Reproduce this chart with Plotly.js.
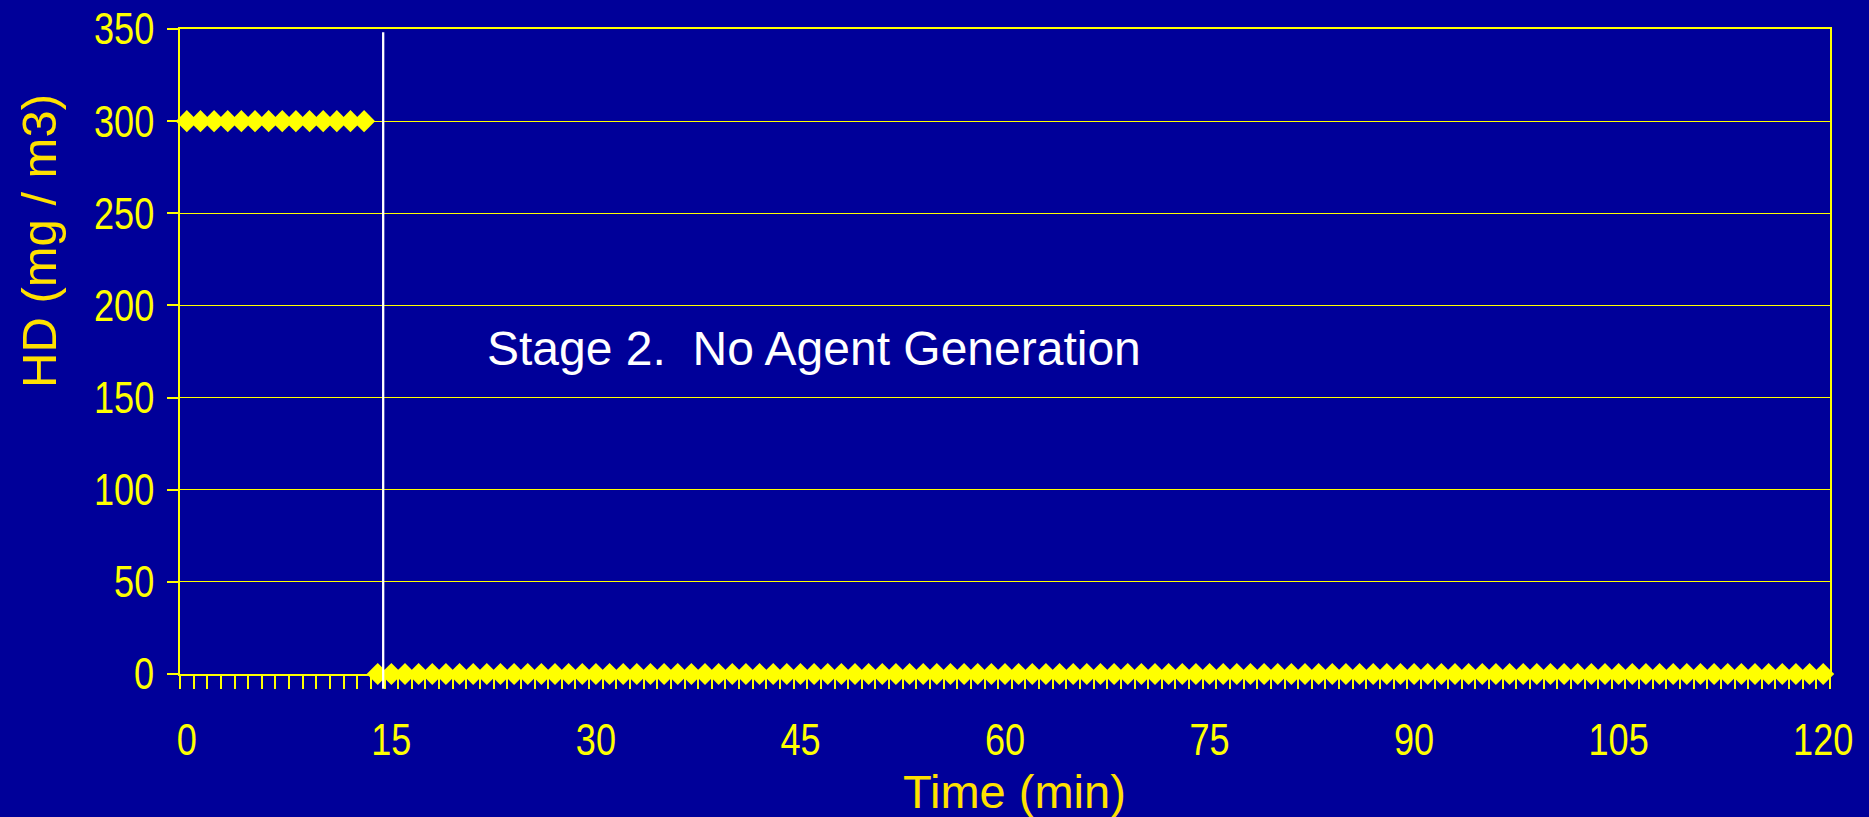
<!DOCTYPE html>
<html>
<head>
<meta charset="utf-8">
<script src="https://cdn.plot.ly/plotly-3.0.1.min.js"></script>
<style>
  html, body { margin: 0; padding: 0; background: #000099; }
  #chart { width: 1869px; height: 817px; }
</style>
</head>
<body>
<div id="chart"></div>
<script>
// ---- data ----
const stage1Times = [0,1,2,3,4,5,6,7,8,9,10,11,12,13];
const stage1HD = [300,300,300,300,300,300,300,300,300,300,300,300,300,300];
const stage2Times = [14,15,16,17,18,19,20,21,22,23,24,25,26,27,28,29,30,31,32,33,34,35,36,37,38,39,40,
  41,42,43,44,45,46,47,48,49,50,51,52,53,54,55,56,57,58,59,60,61,62,63,64,65,66,67,68,69,70,
  71,72,73,74,75,76,77,78,79,80,81,82,83,84,85,86,87,88,89,90,91,92,93,94,95,96,97,98,99,100,
  101,102,103,104,105,106,107,108,109,110,111,112,113,114,115,116,117,118,119,120];
const stage2HD = stage2Times.map(() => 0);
const xTickVals = [0,15,30,45,60,75,90,105,120];
const xTickText = ['0','15','30','45','60','75','90','105','120'];
const yTickVals = [0,50,100,150,200,250,300,350];
const stageBoundary = 14.4;
const xTitle = 'Time (min)';
const yTitle = 'HD (mg / m3)';
const stageLabel = 'Stage 2.\u00a0 No Agent Generation';

const YEL = '#FFFF00';
const BG = '#000099';
const sans = 'Liberation Sans, Arial, sans-serif';

const marker = { symbol: 'diamond', size: 17, color: YEL, line: { width: 0 } };

const traces = [
  { x: stage1Times, y: stage1HD, type: 'scatter', mode: 'markers', marker: marker, cliponaxis: false, showlegend: false, hoverinfo: 'x+y' },
  { x: stage2Times, y: stage2HD, type: 'scatter', mode: 'markers', marker: marker, cliponaxis: false, showlegend: false, hoverinfo: 'x+y' }
];

const layout = {
  width: 1869, height: 817,
  paper_bgcolor: BG, plot_bgcolor: BG,
  margin: { l: 180, r: 39, t: 29, b: 143, pad: 0 },
  showlegend: false,
  xaxis: {
    range: [-0.5, 120.5],
    tickmode: 'array', tickvals: xTickVals, ticktext: xTickText,
    ticks: '', ticklen: 0,
    tickfont: { family: sans, size: 44, color: YEL },
    ticklabelstandoff: 26,
    showgrid: false, zeroline: false,
    showline: true, linecolor: YEL, linewidth: 2, mirror: true,
    layer: 'below traces',
    minor: { ticks: 'outside', ticklen: 13, tickwidth: 2, tickcolor: YEL, tick0: -0.5, dtick: 1, showgrid: false }
  },
  yaxis: {
    range: [0, 350],
    tickmode: 'array', tickvals: yTickVals,
    ticks: 'outside', ticklen: 11, tickwidth: 2, tickcolor: YEL,
    tickfont: { family: sans, size: 44, color: YEL },
    ticklabelstandoff: 4,
    showgrid: true, gridcolor: YEL, gridwidth: 1,
    zeroline: false,
    showline: true, linecolor: YEL, linewidth: 2, mirror: true,
    layer: 'below traces'
  },
  shapes: [
    { type: 'line', xref: 'x', yref: 'paper', x0: stageBoundary, x1: stageBoundary, y0: -0.023, y1: 0.995,
      line: { color: '#FFFFFF', width: 2.3 }, layer: 'above' }
  ],
  annotations: [
    { text: stageLabel, xref: 'paper', yref: 'paper', x: 0.1848, y: 0.5054, xanchor: 'left', yanchor: 'middle',
      showarrow: false, font: { family: sans, size: 48, color: '#FFFFFF' } },
    { text: yTitle, xref: 'paper', yref: 'paper', x: -0.0858, y: 0.672, xanchor: 'center', yanchor: 'middle',
      textangle: -90, showarrow: false, font: { family: sans, size: 49, color: '#FFE100' } },
    { text: xTitle, xref: 'paper', yref: 'paper', x: 0.5055, y: -0.1825, xanchor: 'center', yanchor: 'middle',
      showarrow: false, font: { family: sans, size: 47, color: '#FFE100' } }
  ]
};

Plotly.newPlot('chart', traces, layout, { displayModeBar: false, staticPlot: true }).then(function (gd) {
  // emulate the narrow tick-label face of the original
  gd.querySelectorAll('.xtick text, .ytick text').forEach(function (t) {
    var w = t.getComputedTextLength();
    t.setAttribute('textLength', (w * 0.82).toFixed(1));
    t.setAttribute('lengthAdjust', 'spacingAndGlyphs');
  });
});
</script>
</body>
</html>
